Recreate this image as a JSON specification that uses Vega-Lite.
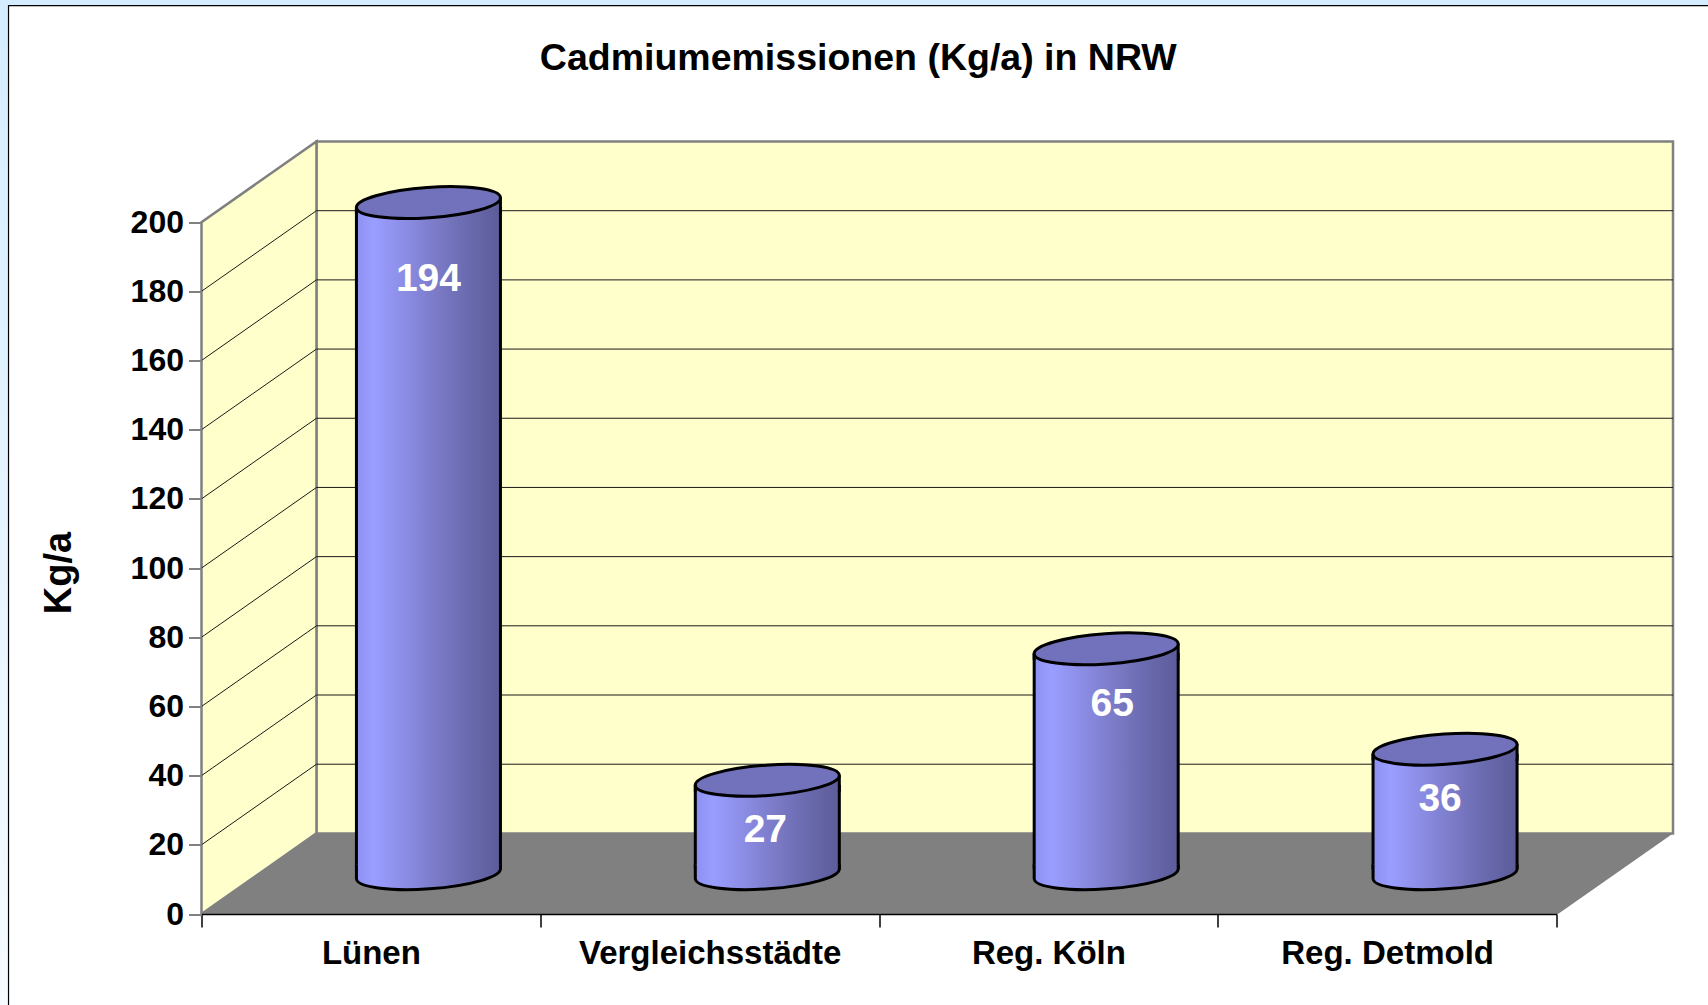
{
"$schema":"https://vega.github.io/schema/vega-lite/v6.json",
"width":1471.5,"height":772.5,
"autosize":{"type":"none"},
"padding":{"left":201.5,"top":141.5,"right":35,"bottom":91},
"background":"#e4f3ff",
"title":{"text":"Cadmiumemissionen (Kg/a) in NRW","font":"Liberation Sans","fontSize":37.5,"fontWeight":"bold","color":"#000000","anchor":"middle","frame":"group","dx":-79,"offset":-128,"baseline":"alphabetic"},
"config":{"view":{"stroke":null},"font":"Liberation Sans"},
"datasets":{
"emissions":[{"region":"Lünen","value":194},{"region":"Vergleichsstädte","value":27},{"region":"Reg. Köln","value":65},{"region":"Reg. Detmold","value":36}],
"grid":[{"v":20,"back":43.3},{"v":40,"back":63.3},{"v":60,"back":83.3},{"v":80,"back":103.3},{"v":100,"back":123.3},{"v":120,"back":143.3},{"v":140,"back":163.3},{"v":160,"back":183.3},{"v":180,"back":203.3}],
"sideWall":[{"d":0,"low":0,"high":200},{"d":0.339,"low":23.3,"high":223.3}],
"floor":[{"h":0,"from":0,"to":4},{"h":23.3,"from":0.339,"to":4.339}],
"panel":[{"part":"panel"}]
},
"layer":[
{"layer":[
{"data":{"name":"panel"},"mark":{"type":"rect","fill":{"gradient":"linear","x1":0,"x2":0,"y1":0,"y2":1,"stops":[{"offset":0,"color":"#d4ecff"},{"offset":1,"color":"#f6fbff"}]}},
 "encoding":{"x":{"datum":-0.6,"type":"quantitative","scale":{"domain":[0,4.339],"nice":false,"zero":false},"axis":null},"x2":{"datum":4.6},"y":{"datum":-30,"type":"quantitative","scale":{"domain":[0,223.3],"nice":false,"zero":false},
   "axis":{"orient":"left","values":[0,20,40,60,80,100,120,140,160,180,200],"domain":false,"grid":false,"tickSize":13,"tickWidth":2,"tickColor":"#808080","labelFont":"Liberation Sans","labelFontSize":32,"labelFontWeight":"bold","labelColor":"#000000","labelPadding":5,"zindex":1,"title":"Kg/a","titleFont":"Liberation Sans","titleFontSize":38,"titleFontWeight":"bold","titleColor":"#000000","titleX":-123,"titleY":431,"titleAngle":270}},"y2":{"datum":270}}},
{"data":{"name":"panel"},"mark":{"type":"rect","stroke":"#000000","strokeWidth":1.2,"fill":"#ffffff"},
 "encoding":{"x":{"datum":-0.569,"type":"quantitative"},"x2":{"datum":4.6},"y":{"datum":-30,"type":"quantitative"},"y2":{"datum":262.6}}},
{"data":{"name":"panel"},"mark":{"type":"rect","fill":"#ffffcc","stroke":"#808080","strokeWidth":2.5},
 "encoding":{"x":{"datum":0.339,"type":"quantitative"},"x2":{"datum":4.339},"y":{"datum":23.3,"type":"quantitative"},"y2":{"datum":223.3}}},
{"data":{"name":"sideWall"},"mark":{"type":"area","orient":"vertical","fill":"#ffffcc","stroke":"#808080","strokeWidth":2.5},
 "encoding":{"x":{"field":"d","type":"quantitative"},"y":{"field":"low","type":"quantitative"},"y2":{"field":"high"}}},
{"data":{"name":"floor"},"mark":{"type":"area","orient":"horizontal","fill":"#808080"},
 "encoding":{"y":{"field":"h","type":"quantitative"},"x":{"field":"from","type":"quantitative"},"x2":{"field":"to"}}},
{"data":{"name":"grid"},"mark":{"type":"rule","color":"#1a1a1a","strokeWidth":1},
 "encoding":{"x":{"datum":0,"type":"quantitative"},"x2":{"datum":0.339},"y":{"field":"v","type":"quantitative"},"y2":{"field":"back"}}},
{"data":{"name":"grid"},"mark":{"type":"rule","color":"#1a1a1a","strokeWidth":1},
 "encoding":{"x":{"datum":0.339,"type":"quantitative"},"x2":{"datum":4.339},"y":{"field":"back","type":"quantitative"}}}
]},
{"data":{"name":"emissions"},
 "mark":{"type":"point","opacity":0},
 "encoding":{
  "x":{"field":"region","type":"nominal","sort":null,"scale":{"type":"band","range":[0,1355],"paddingInner":0,"paddingOuter":0},
   "axis":{"orient":"bottom","title":null,"labelAngle":0,"tickBand":"extent","tickSize":13,"tickColor":"#000000","tickWidth":1.5,"domainColor":"#000000","domainWidth":1.5,"labelFont":"Liberation Sans","labelFontSize":33,"labelFontWeight":"bold","labelColor":"#000000","labelPadding":10,"labelBaseline":"top","labelLimit":400,"zindex":1}},
  "y":{"datum":0,"type":"quantitative","scale":{"domain":[0,223.3],"nice":false},"axis":null}}},
{"data":{"name":"emissions"},
 "mark":{"type":"bar","stroke":"#000000","strokeWidth":3,"fill":{"gradient":"linear","x1":0,"x2":1,"y1":0,"y2":0,"stops":[{"offset":0,"color":"#8c90f0"},{"offset":0.12,"color":"#9a9eff"},{"offset":0.45,"color":"#8383d6"},{"offset":0.55,"color":"#7b7bc8"},{"offset":0.8,"color":"#6868ac"},{"offset":1,"color":"#5c5c9a"}]}},
 "encoding":{
  "x":{"field":"region","type":"nominal","sort":null,"axis":null,"scale":{"type":"band","range":[57.5,1413],"paddingInner":0.575,"paddingOuter":0.2875}},
  "y":{"field":"value","type":"quantitative","axis":null,"scale":{"domain":[-9.92,213.38],"nice":false,"zero":false}},
  "y2":{"datum":3.47}}},
{"data":{"name":"emissions"},
 "encoding":{
  "x":{"field":"region","type":"nominal","sort":null,"axis":null,"scale":{"type":"band","range":[57.5,1413],"paddingInner":0.575,"paddingOuter":0.2875}},
  "y":{"field":"value","type":"quantitative","axis":null,"scale":{"domain":[-11.65,211.65],"nice":false,"zero":false}}},
 "layer":[
 {"mark":{"type":"point","filled":true,"opacity":1,"size":20736,"strokeWidth":3,"stroke":"#000000","shape":"M-1,-0.13L-1,0.07A1,0.21,-4,0,0,1,-0.07L1,-0.13","fill":{"gradient":"linear","x1":0,"x2":1,"y1":0,"y2":0,"stops":[{"offset":0,"color":"#8c90f0"},{"offset":0.12,"color":"#9a9eff"},{"offset":0.45,"color":"#8383d6"},{"offset":0.55,"color":"#7b7bc8"},{"offset":0.8,"color":"#6868ac"},{"offset":1,"color":"#5c5c9a"}]}},
  "encoding":{"y":{"datum":0,"type":"quantitative"}}},
 {"mark":{"type":"point","filled":true,"opacity":1,"size":20736,"strokeWidth":0,"shape":"M-1,0.07L-1,0.14L1,0.14L1,-0.07Z","fill":{"gradient":"linear","x1":0,"x2":1,"y1":0,"y2":0,"stops":[{"offset":0,"color":"#8c90f0"},{"offset":0.12,"color":"#9a9eff"},{"offset":0.45,"color":"#8383d6"},{"offset":0.55,"color":"#7b7bc8"},{"offset":0.8,"color":"#6868ac"},{"offset":1,"color":"#5c5c9a"}]}}},
 {"mark":{"type":"point","filled":false,"opacity":1,"size":20736,"strokeWidth":3,"stroke":"#000000","shape":"M-1,0.07L-1,0.16M1,-0.07L1,0.16"}},
 {"mark":{"type":"point","filled":true,"opacity":1,"size":20736,"strokeWidth":3,"stroke":"#000000","fill":"#7272bc","shape":"M-1,0.07A1,0.21,-4,1,1,1,-0.07A1,0.21,-4,1,1,-1,0.07Z"}},
 {"transform":[{"filter":"datum.value == 194"}],"mark":{"type":"text","font":"Liberation Sans","fontSize":39,"fontWeight":"bold","color":"#ffffff","dy":76,"dx":0,"baseline":"middle"},"encoding":{"text":{"field":"value","type":"quantitative"}}},
 {"transform":[{"filter":"datum.value == 27"}],"mark":{"type":"text","font":"Liberation Sans","fontSize":39,"fontWeight":"bold","color":"#ffffff","dy":50,"dx":-2,"baseline":"middle"},"encoding":{"text":{"field":"value","type":"quantitative"}}},
 {"transform":[{"filter":"datum.value == 65"}],"mark":{"type":"text","font":"Liberation Sans","fontSize":39,"fontWeight":"bold","color":"#ffffff","dy":55,"dx":6,"baseline":"middle"},"encoding":{"text":{"field":"value","type":"quantitative"}}},
 {"transform":[{"filter":"datum.value == 36"}],"mark":{"type":"text","font":"Liberation Sans","fontSize":39,"fontWeight":"bold","color":"#ffffff","dy":50,"dx":-5,"baseline":"middle"},"encoding":{"text":{"field":"value","type":"quantitative"}}}
 ]}
],
"resolve":{"scale":{"x":"independent","y":"independent"},"axis":{"x":"independent","y":"independent"}}
}
